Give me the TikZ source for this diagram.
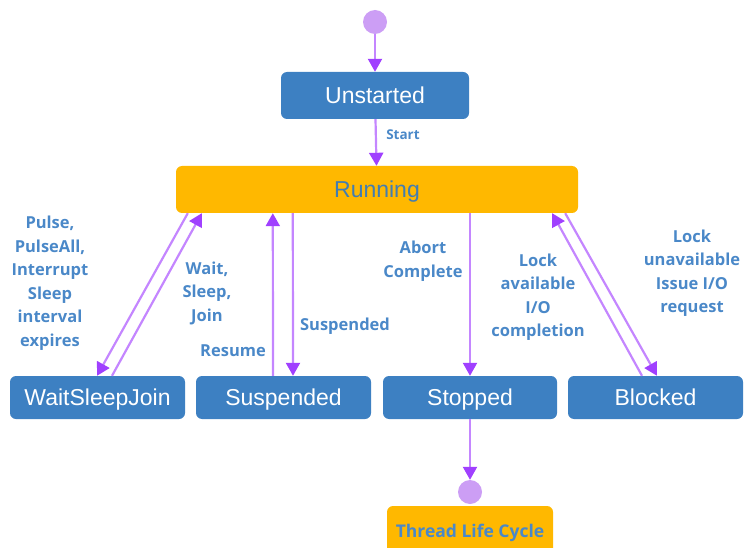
\documentclass[tikz,border=0pt]{standalone}
\usepackage{fontspec}
\setmainfont{Liberation Sans}
\newfontfamily\lblfont{Open Sans}
\usetikzlibrary{arrows.meta}
\definecolor{boxblue}{RGB}{61,128,194}
\definecolor{runorange}{RGB}{255,184,0}
\definecolor{lblblue}{RGB}{74,136,200}
\definecolor{runtext}{RGB}{66,125,178}
\definecolor{arrline}{RGB}{196,134,255}
\definecolor{arrhead}{RGB}{160,64,255}
\definecolor{dotfill}{RGB}{204,158,245}
\tikzset{
  state/.style={draw=none, fill=boxblue, rounded corners=6pt, text=white,
    font=\fontsize{23}{26}\selectfont, minimum height=43pt, inner sep=0pt,
    text height=16.5pt, text depth=0pt},
  dot/.style={circle, fill=dotfill, draw=none, minimum size=24pt, inner sep=0pt},
  arr/.style={draw=arrline, line width=2.2pt,
    -{Triangle[width=14pt,length=13pt,color=arrhead]}, shorten >=0pt},
  lbl/.style={text=lblblue, font=\lblfont\bfseries\fontsize{16.5}{23.5}\selectfont, align=center, inner sep=0pt}
}
\begin{document}
\begin{tikzpicture}[x=1pt,y=-1pt]
\useasboundingbox (0,0) rectangle (744,548);
\node[dot] (start) at (375,22) {};
\node[state, minimum width=188pt, minimum height=47pt] (unst) at (375,95.5) {Unstarted};
\node[state, fill=runorange, text=runtext, minimum width=402pt, minimum height=47pt] (run) at (377,189.5) {Running};
\node[state, minimum width=175pt] (wsj) at (97.5,397.5) {WaitSleepJoin};
\node[state, minimum width=175pt] (sus) at (283.5,397.5) {Suspended};
\node[state, minimum width=174pt] (stop) at (470,397.5) {Stopped};
\node[state, minimum width=175pt] (blk) at (655.5,397.5) {Blocked};
\node[dot] (end) at (470,492) {};
\node[state, fill=runorange, text=lblblue, minimum width=166pt, minimum height=50pt,
  font=\lblfont\bfseries\fontsize{17.5}{20}\selectfont, text height=12.5pt, text depth=0pt] (tlc) at (470,531) {Thread Life Cycle};

\draw[arr] (start) -- (unst);
\draw[arr] (unst) -- (run);
\draw[arr] ([xshift=12pt]run.south west) -- ([xshift=-0.5pt]wsj.north);
\draw[arr] ([xshift=14.5pt]wsj.north) -- ([xshift=26pt]run.south west);
\draw[arr] ([xshift=-10.5pt]sus.north) -- ([xshift=97pt]run.south west);
\draw[arr] ([xshift=117pt]run.south west) -- ([xshift=9.5pt]sus.north);
\draw[arr] ([xshift=93pt]run.south) -- (stop.north);
\draw[arr] ([xshift=-13.5pt]blk.north) -- ([xshift=-26pt]run.south east);
\draw[arr] ([xshift=-13pt]run.south east) -- ([xshift=1.5pt]blk.north);
\draw[arr] (stop) -- (end);

\node[lbl, font=\lblfont\bfseries\fontsize{13.5}{15}\selectfont] (lstart) at (403,135) {Start};
\node[lbl] (lpulse) at (50,283) {Pulse,\\PulseAll,\\Interrupt\\Sleep\\interval\\expires};
\node[lbl] (lwait) at (207,293) {Wait,\\Sleep,\\Join};
\node[lbl] (lres) at (233,351) {Resume};
\node[lbl] (lsus) at (345,326) {Suspended};
\node[lbl] (labort) at (423,261) {Abort\\Complete};
\node[lbl] (lavail) at (538,297) {Lock\\available\\I/O\\completion};
\node[lbl] (lunav) at (692,273) {Lock\\unavailable\\Issue I/O\\request};
\end{tikzpicture}
\end{document}
